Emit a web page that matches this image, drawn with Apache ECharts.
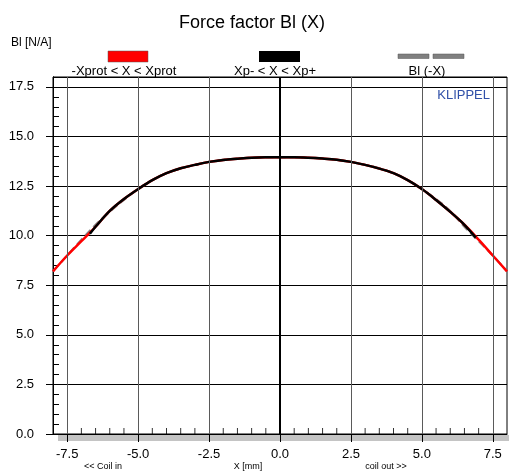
<!DOCTYPE html>
<html>
<head>
<meta charset="utf-8">
<script src="https://cdn.jsdelivr.net/npm/echarts@6/dist/echarts.min.js"></script>
<style>
html,body{margin:0;padding:0;background:#fff;}
#chart{width:509px;height:472px;}
</style>
</head>
<body>
<div id="chart"></div>
<script>
// ---- data ----
const xValues = [-8,-7.5,-7,-6.5,-6,-5.5,-5,-4.5,-4,-3.5,-3,-2.5,-2,-1.5,-1,-0.5,0,0.5,1,1.5,2,2.5,3,3.5,4,4.5,5,5.5,6,6.5,7,7.5,8];
const blValues = [8.2,9.0,9.72,10.45,11.25,11.85,12.35,12.8,13.15,13.4,13.57,13.72,13.82,13.88,13.93,13.95,13.95,13.95,13.93,13.89,13.83,13.72,13.57,13.38,13.15,12.8,12.35,11.8,11.2,10.55,9.8,9.0,8.2];
const xpMinus = -6.7, blAtXpMinus = 10.1;   // black segment limits
const xpPlus = 6.9, blAtXpPlus = 9.9;
const xTickLabels = [-7.5,-5,-2.5,0,2.5,5,7.5];
const xMinorTicks = [-7,-6.5,-6,-5.5,-4.5,-4,-3.5,-3,-2,-1.5,-1,-0.5,0.5,1,1.5,2,3,3.5,4,4.5,5.5,6,6.5,7];
const xGridLines = [-7.5,-5,-2.5,2.5,5,7.5];
const xZeroLine = 0;
const legendLabels = ['-Xprot < X < Xprot','Xp- < X < Xp+','Bl (-X)'];
const titleText = 'Force factor Bl (X)';
const yAxisName = 'Bl [N/A]';
const xAxisTexts = ['<< Coil in','X [mm]','coil out >>'];
const brand = 'KLIPPEL';

// ---- derived series ----
const redData = xValues.map((x,i)=>[x, blValues[i]]);
const blackData = [[xpMinus, blAtXpMinus]]
  .concat(xValues.map((x,i)=>[x, blValues[i]]).filter(p=>p[0]>xpMinus && p[0]<xpPlus))
  .concat([[xpPlus, blAtXpPlus]]);
const mirrorData = xValues.map((x,i)=>[x, blValues[blValues.length-1-i]]);
const minorTickData = xMinorTicks.map(x=>[x, 0]);

const FONT = 'Liberation Sans, Arial, sans-serif';
const chart = echarts.init(document.getElementById('chart'), null, {renderer:'canvas'});

const option = {
  animation:false,
  backgroundColor:'#fff',
  title:{text:titleText,left:247,textAlign:'center',top:9,textStyle:{fontFamily:FONT,fontSize:18,fontWeight:'normal',color:'#000'}},
  grid:{left:53,right:2,top:77,bottom:38,show:true,borderColor:'#000',borderWidth:1},
  xAxis:[
    {type:'value',min:-8,max:8,position:'bottom',
     axisLine:{show:true,onZero:false,lineStyle:{color:'#000',width:1}},
     axisTick:{show:true,customValues:xTickLabels,length:8,lineStyle:{color:'#000'}},
     axisLabel:{customValues:xTickLabels,formatter:v=>v.toFixed(1),fontSize:13,color:'#000',margin:14,fontFamily:FONT},
     splitLine:{show:false}}
  ],
  yAxis:[
    {type:'value',min:0,max:18,interval:2.5,position:'left',
     axisLine:{show:true,onZero:false,lineStyle:{color:'#000'}},
     axisTick:{show:true,length:7,lineStyle:{color:'#000'}},
     axisLabel:{formatter:v=>v.toFixed(1),fontSize:13,color:'#000',margin:19,fontFamily:FONT},
     splitLine:{show:true,lineStyle:{color:'#000',width:1}}},
    {type:'value',min:0,max:18,interval:0.5,position:'left',
     axisLine:{show:true,onZero:false,lineStyle:{color:'#000'}},
     axisTick:{show:true,inside:true,length:6,lineStyle:{color:'#000'}},
     axisLabel:{show:false},splitLine:{show:false}}
  ],
  series:[
    {name:legendLabels[2],type:'line',data:mirrorData,showSymbol:false,smooth:0.35,z:1,
     lineStyle:{color:'#808080',width:2,type:'dashed'},
     markLine:{silent:true,symbol:'none',label:{show:false},
       data:xGridLines.map(v=>({xAxis:v,lineStyle:{color:'#5a5a5a',width:1,type:'solid'}}))
         .concat([{xAxis:xZeroLine,lineStyle:{color:'#000',width:2,type:'solid'}}])}},
    {name:legendLabels[0],type:'line',data:redData,showSymbol:false,smooth:0.35,z:2,lineStyle:{color:'#ff0000',width:2.5}},
    {name:legendLabels[1],type:'line',data:blackData,showSymbol:false,smooth:0.35,z:3,lineStyle:{color:'#000',width:2.5}},
    {name:'minor ticks',type:'scatter',data:minorTickData,silent:true,z:4,
     symbol:'rect',symbolSize:[1,6],symbolOffset:[0,-3],itemStyle:{color:'#000'}}
  ],
  graphic:[
    {type:'rect',z:-1,silent:true,shape:{x:58,y:435,width:451,height:6},style:{fill:'#c4c4c4'}},
    {type:'text',style:{text:yAxisName,x:11,y:43,textVerticalAlign:'middle',font:'12px '+FONT,fill:'#000'}},
    {type:'rect',shape:{x:108,y:51,width:40,height:11},style:{fill:'#ff0000',stroke:'#555',lineWidth:0.5}},
    {type:'text',style:{text:legendLabels[0],x:124,y:71,textAlign:'center',textVerticalAlign:'middle',font:'13px '+FONT,fill:'#000'}},
    {type:'rect',shape:{x:259,y:51,width:41,height:11},style:{fill:'#000'}},
    {type:'text',style:{text:legendLabels[1],x:275,y:71,textAlign:'center',textVerticalAlign:'middle',font:'13px '+FONT,fill:'#000'}},
    {type:'rect',shape:{x:398,y:54,width:31,height:4.5},style:{fill:'#808080',stroke:'#555',lineWidth:0.5}},
    {type:'rect',shape:{x:433,y:54,width:31,height:4.5},style:{fill:'#808080',stroke:'#555',lineWidth:0.5}},
    {type:'text',style:{text:legendLabels[2],x:427,y:71,textAlign:'center',textVerticalAlign:'middle',font:'13px '+FONT,fill:'#000'}},
    {type:'text',style:{text:brand,x:490,y:95,textAlign:'right',textVerticalAlign:'middle',font:'13px '+FONT,fill:'#3050a8'}},
    {type:'text',style:{text:xAxisTexts[0],x:103,y:467,textAlign:'center',textVerticalAlign:'middle',font:'9px '+FONT,fill:'#000'}},
    {type:'text',style:{text:xAxisTexts[1],x:248,y:467,textAlign:'center',textVerticalAlign:'middle',font:'9px '+FONT,fill:'#000'}},
    {type:'text',style:{text:xAxisTexts[2],x:386,y:467,textAlign:'center',textVerticalAlign:'middle',font:'9px '+FONT,fill:'#000'}}
  ]
};
chart.setOption(option);
</script>
</body>
</html>
